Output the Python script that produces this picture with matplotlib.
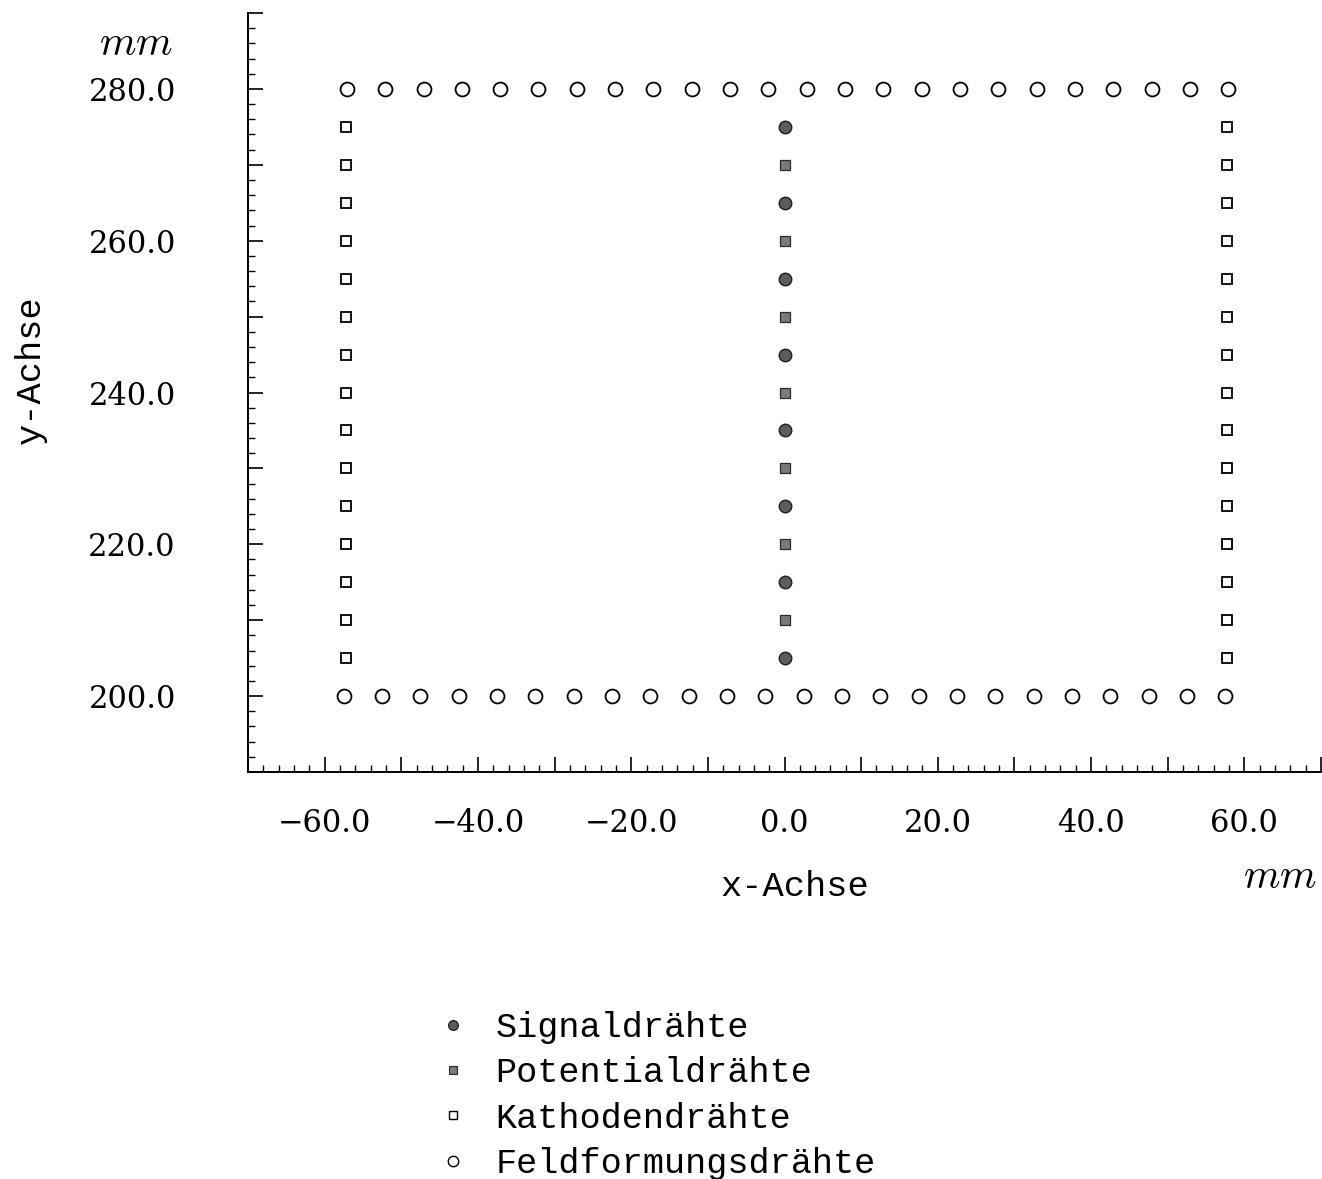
import matplotlib
matplotlib.use("Agg")
import matplotlib.pyplot as plt
from matplotlib.lines import Line2D
from matplotlib.ticker import MultipleLocator, FuncFormatter

plt.rcParams['mathtext.fontset'] = 'cm'

# --- data (mm) ---
field_top_x = [-57.1, -52.1, -47.1, -42.1, -37.1, -32.1, -27.1, -22.1, -17.1, -12.1, -7.1, -2.1,
               2.9, 7.9, 12.9, 17.9, 22.9, 27.9, 32.9, 37.9, 42.9, 47.9, 52.9, 57.9]
field_bottom_x = [-57.5, -52.5, -47.5, -42.5, -37.5, -32.5, -27.5, -22.5, -17.5, -12.5, -7.5, -2.5,
                  2.5, 7.5, 12.5, 17.5, 22.5, 27.5, 32.5, 37.5, 42.5, 47.5, 52.5, 57.5]
field_y_top = 280.0
field_y_bottom = 200.0
cathode_x = [-57.2, 57.75]
cathode_y = [205, 210, 215, 220, 225, 230, 235, 240, 245, 250, 255, 260, 265, 270, 275]
signal_x = 0.0
signal_y = [205, 215, 225, 235, 245, 255, 265, 275]
potential_x = 0.0
potential_y = [210, 220, 230, 240, 250, 260, 270]

x_ticks = [-60, -40, -20, 0, 20, 40, 60]
y_ticks = [200, 220, 240, 260, 280]
labels = ["Signaldrähte", "Potentialdrähte", "Kathodendrähte", "Feldformungsdrähte"]

W, H = 1322, 1179
fig = plt.figure(figsize=(W / 100, H / 100), dpi=100)
ax = fig.add_axes([248 / W, 1 - 772 / H, (1321 - 248) / W, (772 - 13) / H])

mono = 'Liberation Mono'
numfont = 'DejaVu Serif'

sig_fc, sig_ec = '#5c5c5c', '#1e1e1e'
pot_fc, pot_ec = '#7a7a7a', '#2a2a2a'

# field wires
ax.plot(field_top_x, [field_y_top] * len(field_top_x), ls='none', marker='o', ms=10,
        mfc='white', mec='black', mew=1.3, clip_on=False)
ax.plot(field_bottom_x, [field_y_bottom] * len(field_bottom_x), ls='none', marker='o', ms=10,
        mfc='white', mec='black', mew=1.3, clip_on=False)
# cathode wires
for cx in cathode_x:
    ax.plot([cx] * len(cathode_y), cathode_y, ls='none', marker='s', ms=7,
            mfc='white', mec='black', mew=1.3)
# signal wires
ax.plot([signal_x] * len(signal_y), signal_y, ls='none', marker='o', ms=9,
        mfc=sig_fc, mec=sig_ec, mew=1.0)
# potential wires
ax.plot([potential_x] * len(potential_y), potential_y, ls='none', marker='s', ms=7,
        mfc=pot_fc, mec=pot_ec, mew=0.9)

ax.set_xlim(-70, 70)
ax.set_ylim(190, 290)

for s in ['top', 'right']:
    ax.spines[s].set_visible(False)
for s in ['left', 'bottom']:
    ax.spines[s].set_linewidth(1.4)

ax.xaxis.set_major_locator(MultipleLocator(10))
ax.xaxis.set_minor_locator(MultipleLocator(2))
ax.yaxis.set_major_locator(MultipleLocator(10))
ax.yaxis.set_minor_locator(MultipleLocator(2))


def fmt_x(v, pos):
    return f"{v:.1f}".replace('-', '\u2212') if round(v) in x_ticks else ""


def fmt_y(v, pos):
    return f"{v:.1f}" if round(v) in y_ticks else ""


ax.xaxis.set_major_formatter(FuncFormatter(fmt_x))
ax.yaxis.set_major_formatter(FuncFormatter(fmt_y))

ax.tick_params(which='major', direction='in', length=11, width=1.2,
               labelsize=22, pad=26)
ax.tick_params(which='minor', direction='in', length=5, width=1.0)
ax.tick_params(axis='y', which='major', pad=52)
for lab in ax.get_xticklabels() + ax.get_yticklabels():
    lab.set_fontfamily(numfont)

# axis labels
fig.text(30 / W, 1 - 370 / H, "y-Achse", rotation=90, ha='center', va='center',
         fontsize=25.5, family=mono)
fig.text(795 / W, 1 - 887 / H, "x-Achse", ha='center', va='center',
         fontsize=25.5, family=mono)
fig.text(136 / W, 1 - 43 / H, r"$mm$", ha='center', va='center', fontsize=30)
fig.text(1280 / W, 1 - 876 / H, r"$mm$", ha='center', va='center', fontsize=30)

# legend
handles = [
    Line2D([], [], ls='none', marker='o', ms=7, mfc=sig_fc, mec=sig_ec, mew=0.9),
    Line2D([], [], ls='none', marker='s', ms=5.5, mfc=pot_fc, mec=pot_ec, mew=0.8),
    Line2D([], [], ls='none', marker='s', ms=6, mfc='white', mec='black', mew=1.0),
    Line2D([], [], ls='none', marker='o', ms=7.5, mfc='white', mec='black', mew=1.0),
]
fig.legend(handles, labels, loc='upper left', bbox_to_anchor=(436 / W, 1 - 1011 / H),
           frameon=False, prop={'family': mono, 'size': 25.3}, handlelength=0.95,
           handletextpad=0.75, labelspacing=0.35, borderpad=0, borderaxespad=0)

fig.savefig("out.png", dpi=100)
